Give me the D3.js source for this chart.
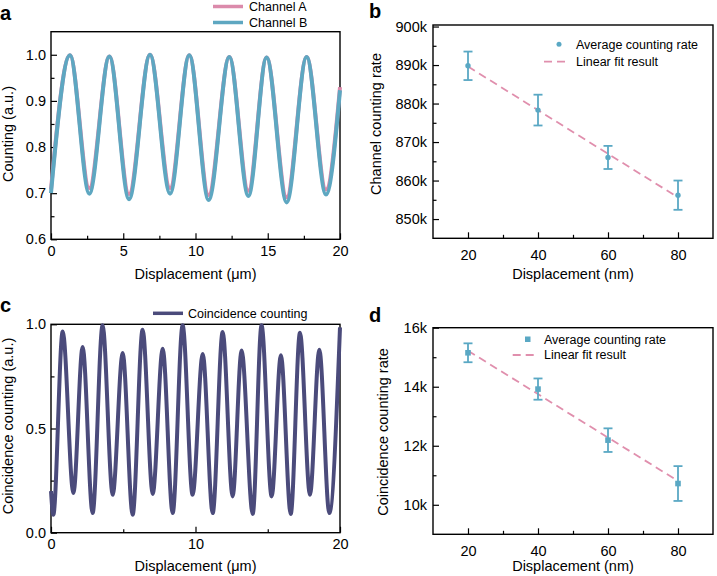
<!DOCTYPE html>
<html>
<head>
<meta charset="utf-8">
<script src="https://cdn.jsdelivr.net/npm/d3@7"></script>
<style>
  html, body { margin: 0; padding: 0; background: #fff; }
  svg { display: block; }
</style>
</head>
<body>
<svg id="fig" width="717" height="576"></svg>
<script>
// ---- data ----
// panel a: turning points of the two channel traces
const dispA    = [0, 1.31, 2.65, 4.04, 5.40, 6.85, 8.24, 9.57, 10.91, 12.34, 13.66, 14.92, 16.31, 17.69, 19.03, 20.0];
const channelA = [0.708, 0.999, 0.711, 0.996, 0.698, 1.000, 0.711, 0.999, 0.696, 0.995, 0.705, 0.994, 0.691, 0.995, 0.708, 0.930];
const channelB = [0.700, 0.999, 0.699, 0.996, 0.687, 1.000, 0.699, 0.999, 0.685, 0.995, 0.694, 0.994, 0.680, 0.995, 0.697, 0.923];

// panel c: turning points of the coincidence trace
const dispC = [0, 0.16, 0.81, 1.55, 2.19, 2.88, 3.57, 4.27, 4.96, 5.65, 6.34, 7.04, 7.73, 8.42, 9.11, 9.80,
               10.50, 11.19, 11.88, 12.57, 13.19, 13.96, 14.57, 15.27, 15.91, 16.59, 17.23, 17.92, 18.57, 19.26, 20.0];
const coinc = [0.20, 0.086, 0.966, 0.190, 0.891, 0.094, 0.995, 0.182, 0.862, 0.086, 0.974, 0.186, 0.883, 0.094, 0.995, 0.182,
               0.858, 0.094, 0.963, 0.174, 0.874, 0.090, 0.995, 0.174, 0.851, 0.090, 0.960, 0.182, 0.878, 0.094, 0.985];

// panels b, d
const dispNm   = [20, 40, 60, 80];
const chanRate = [889800, 878300, 866000, 856200];
const chanErr  = [3700, 4000, 3000, 3800];
const chanFitX = [20, 79];
const chanFitY = [889600, 856200];
const coinRate = [15150, 13920, 12190, 10720];
const coinErr  = [320, 360, 400, 590];
const coinFitX = [20, 79];
const coinFitY = [15220, 10880];

// ticks
const aXMajor = [0, 5, 10, 15, 20], aXMinor = [2.5, 7.5, 12.5, 17.5];
const aYMajor = [0.6, 0.7, 0.8, 0.9, 1.0], aYMinor = [0.65, 0.75, 0.85, 0.95];
const cXMajor = [0, 10, 20], cXMinor = [5, 15];
const cYMajor = [0, 0.5, 1.0], cYMinor = [0.25, 0.75];
const nmMajor = [20, 40, 60, 80], nmMinor = [30, 50, 70];
const bYMajor = [850000, 860000, 870000, 880000, 890000, 900000];
const bYMinor = [855000, 865000, 875000, 885000, 895000];
const dYMajor = [10000, 12000, 14000, 16000], dYMinor = [11000, 13000, 15000];

const C = {
  pink: "#db8aab",
  teal: "#5ea7c1",
  purple: "#4b4b7b",
  marker: "#5aa8c4",
  fit: "#e08fad"
};
const FONT = "'Liberation Sans', Arial, Helvetica, sans-serif";

const svg = d3.select("#fig").attr("font-family", FONT);

function styleAxis(sel) {
  sel.select(".domain").remove();
  sel.selectAll(".tick line").attr("stroke", "#000").attr("stroke-width", 1.2);
  sel.selectAll(".tick text").attr("fill", "#000").attr("font-size", "14.5px").attr("font-family", FONT);
}

function panel(box, x, y, o) {
  const g = svg.append("g");
  g.append("g").attr("transform", `translate(0,${box.bottom})`)
    .call(d3.axisBottom(x).tickValues(o.xMajor).tickFormat(d3.format("d")).tickSizeInner(-6).tickSizeOuter(0).tickPadding(o.xPad))
    .call(styleAxis);
  g.append("g").attr("transform", `translate(0,${box.bottom})`)
    .call(d3.axisBottom(x).tickValues(o.xMinor).tickFormat("").tickSizeInner(-3.5).tickSizeOuter(0))
    .call(styleAxis);
  g.append("g").attr("transform", `translate(${box.left},0)`)
    .call(d3.axisLeft(y).tickValues(o.yMajor).tickFormat(o.fmt).tickSizeInner(-6).tickSizeOuter(0).tickPadding(o.yPad))
    .call(styleAxis);
  g.append("g").attr("transform", `translate(${box.left},0)`)
    .call(d3.axisLeft(y).tickValues(o.yMinor).tickFormat("").tickSizeInner(-3.5).tickSizeOuter(0))
    .call(styleAxis);
  g.append("rect")
    .attr("x", box.left).attr("y", box.top)
    .attr("width", box.right - box.left).attr("height", box.bottom - box.top)
    .attr("fill", "none").attr("stroke", "#000").attr("stroke-width", 1.4);
  // axis titles
  g.append("text")
    .attr("x", (box.left + box.right) / 2).attr("y", o.xTitleY)
    .attr("text-anchor", "middle").attr("font-size", "14.5px")
    .text(o.xTitle);
  g.append("text")
    .attr("transform", `translate(${o.yTitleX},${o.yTitleCY}) rotate(-90)`)
    .attr("text-anchor", "middle").attr("font-size", "14.5px")
    .text(o.yTitle);
  // panel letter
  g.append("text")
    .attr("x", o.letterX).attr("y", o.letterY)
    .attr("font-size", "20px").attr("font-weight", "bold")
    .text(o.letter);
  return g;
}

function legendLine(x0, x1, y, color, width, dash, label, tx) {
  svg.append("line").attr("x1", x0).attr("x2", x1).attr("y1", y).attr("y2", y)
    .attr("stroke", color).attr("stroke-width", width)
    .attr("stroke-dasharray", dash || null);
  svg.append("text").attr("x", tx).attr("y", y).attr("dy", "0.35em")
    .attr("font-size", "12.5px").text(label);
}

// ===== panel a =====
const boxA = { left: 51, top: 31.7, right: 340, bottom: 239.3 };
const xA = d3.scaleLinear().domain([0, 20]).range([boxA.left, boxA.right]);
const yA = d3.scaleLinear().domain([0.6, 1.05]).range([boxA.bottom, boxA.top]);
const gA = panel(boxA, xA, yA, {
  xMajor: aXMajor, xMinor: aXMinor, yMajor: aYMajor, yMinor: aYMinor,
  fmt: d3.format(".1f"), xPad: 6, yPad: 5,
  xTitle: "Displacement (μm)", xTitleY: 279,
  yTitle: "Counting (a.u.)", yTitleX: 13, yTitleCY: 134,
  letter: "a", letterX: 0, letterY: 20
});
const lineA = d3.line().x(d => xA(d[0])).y(d => yA(d[1])).curve(d3.curveMonotoneX);
gA.append("path").datum(dispA.map((v, i) => [v, channelA[i]]))
  .attr("d", lineA).attr("fill", "none").attr("stroke", C.pink)
  .attr("stroke-width", 4).attr("stroke-linejoin", "round");
gA.append("path").datum(dispA.map((v, i) => [v, channelB[i]]))
  .attr("d", lineA).attr("fill", "none").attr("stroke", C.teal)
  .attr("stroke-width", 4).attr("stroke-linejoin", "round");
legendLine(213, 243, 6.5, C.pink, 3.5, null, "Channel A", 249);
legendLine(213, 243, 22.5, C.teal, 3.5, null, "Channel B", 249);

// ===== panel c =====
const boxC = { left: 51, top: 324.3, right: 340, bottom: 532.7 };
const xC = d3.scaleLinear().domain([0, 20]).range([boxC.left, boxC.right]);
const yC = d3.scaleLinear().domain([0, 1]).range([boxC.bottom, boxC.top]);
const gC = panel(boxC, xC, yC, {
  xMajor: cXMajor, xMinor: cXMinor, yMajor: cYMajor, yMinor: cYMinor,
  fmt: d3.format(".1f"), xPad: 6, yPad: 5,
  xTitle: "Displacement (μm)", xTitleY: 571,
  yTitle: "Coincidence counting (a.u.)", yTitleX: 12.5, yTitleCY: 426,
  letter: "c", letterX: 0, letterY: 312
});
const lineC = d3.line().x(d => xC(d[0])).y(d => yC(d[1])).curve(d3.curveMonotoneX);
gC.append("path").datum(dispC.map((v, i) => [v, coinc[i]]))
  .attr("d", lineC).attr("fill", "none").attr("stroke", C.purple)
  .attr("stroke-width", 4).attr("stroke-linejoin", "round");
legendLine(153, 183, 313.3, C.purple, 3.5, null, "Coincidence counting", 188);

// ===== panel b / d (rate vs displacement) =====
function ratePanel(box, yDom, o, rates, errs, fitX, fitY, marker) {
  const x = d3.scaleLinear().domain([10, 90]).range([box.left, box.right]);
  const y = d3.scaleLinear().domain(yDom).range([box.bottom, box.top]);
  const g = panel(box, x, y, o);
  g.append("path")
    .datum(fitX.map((v, i) => [v, fitY[i]]))
    .attr("d", d3.line().x(d => x(d[0])).y(d => y(d[1])))
    .attr("stroke", C.fit).attr("stroke-width", 1.8).attr("stroke-dasharray", "8,5")
    .attr("fill", "none");
  const pts = dispNm.map((v, i) => ({ x: v, y: rates[i], e: errs[i] }));
  const eb = g.append("g").attr("stroke", C.marker).attr("stroke-width", 1.8);
  pts.forEach(p => {
    eb.append("line").attr("x1", x(p.x)).attr("x2", x(p.x))
      .attr("y1", y(p.y - p.e)).attr("y2", y(p.y + p.e));
    [p.y - p.e, p.y + p.e].forEach(v => {
      eb.append("line").attr("x1", x(p.x) - 4.5).attr("x2", x(p.x) + 4.5)
        .attr("y1", y(v)).attr("y2", y(v));
    });
  });
  if (marker === "circle") {
    g.selectAll("circle.pt").data(pts).enter().append("circle")
      .attr("cx", d => x(d.x)).attr("cy", d => y(d.y)).attr("r", 2.7)
      .attr("fill", C.marker);
  } else {
    g.selectAll("rect.pt").data(pts).enter().append("rect")
      .attr("x", d => x(d.x) - 2.8).attr("y", d => y(d.y) - 2.8)
      .attr("width", 5.6).attr("height", 5.6).attr("fill", C.marker);
  }
  return g;
}

const boxB = { left: 433, top: 25, right: 713, bottom: 238.3 };
ratePanel(boxB, [845000, 900400], {
  xMajor: nmMajor, xMinor: nmMinor, yMajor: bYMajor, yMinor: bYMinor,
  fmt: d3.format("~s"), xPad: 11.5, yPad: 6,
  xTitle: "Displacement (nm)", xTitleY: 279,
  yTitle: "Channel counting rate", yTitleX: 381, yTitleCY: 124,
  letter: "b", letterX: 369, letterY: 18
}, chanRate, chanErr, chanFitX, chanFitY, "circle");
svg.append("circle").attr("cx", 559).attr("cy", 44.3).attr("r", 2.5).attr("fill", C.marker);
svg.append("text").attr("x", 576).attr("y", 44.3).attr("dy", "0.35em")
  .attr("font-size", "12.5px").text("Average counting rate");
legendLine(544, 569, 61.7, C.fit, 1.8, "8,5", "Linear fit result", 576);

const boxD = { left: 433, top: 327.7, right: 713, bottom: 534.3 };
ratePanel(boxD, [9000, 16000], {
  xMajor: nmMajor, xMinor: nmMinor, yMajor: dYMajor, yMinor: dYMinor,
  fmt: d3.format("~s"), xPad: 11, yPad: 6,
  xTitle: "Displacement (nm)", xTitleY: 571,
  yTitle: "Coincidence counting rate", yTitleX: 388, yTitleCY: 432,
  letter: "d", letterX: 369, letterY: 322
}, coinRate, coinErr, coinFitX, coinFitY, "square");
svg.append("rect").attr("x", 525).attr("y", 336.5).attr("width", 5.5).attr("height", 5.5).attr("fill", C.marker);
svg.append("text").attr("x", 544).attr("y", 339.3).attr("dy", "0.35em")
  .attr("font-size", "12.5px").text("Average counting rate");
legendLine(512.7, 536, 355, C.fit, 1.8, "8,5", "Linear fit result", 544);
</script>
</body>
</html>
